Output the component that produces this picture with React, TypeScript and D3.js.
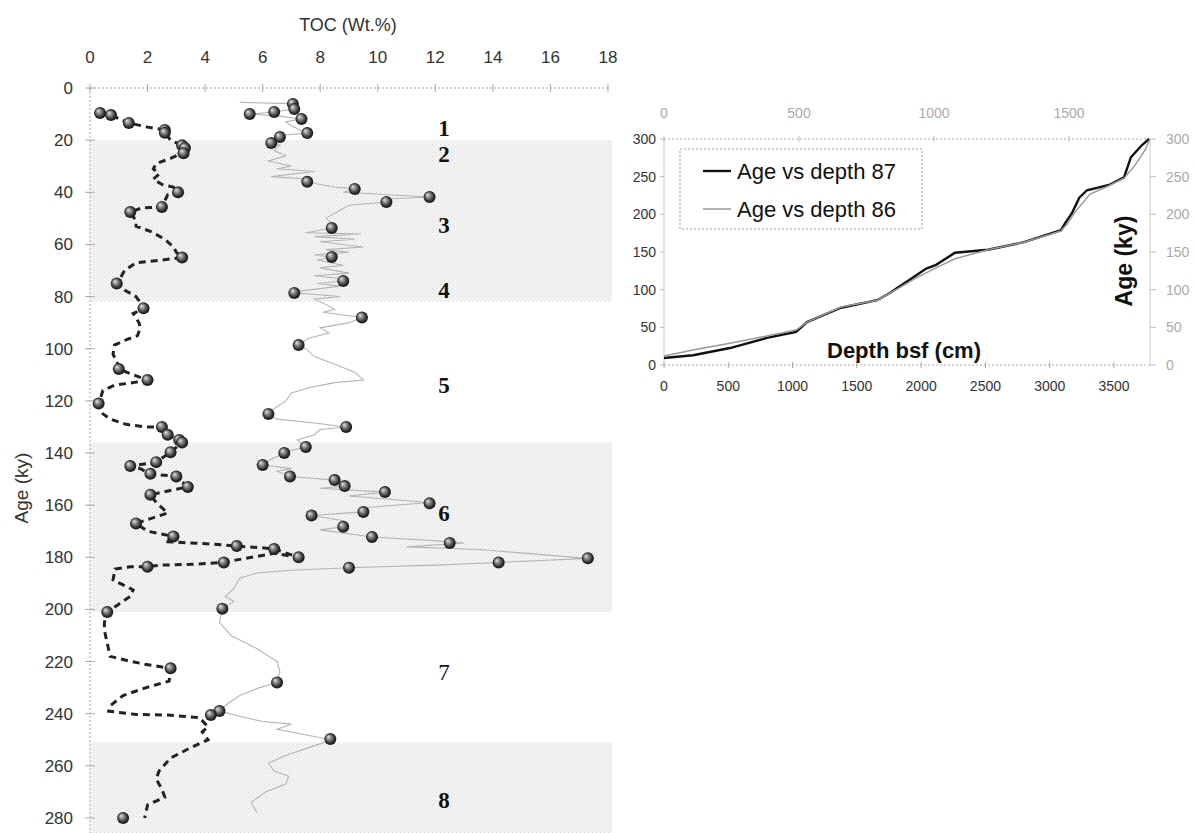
import React, { useEffect, useRef } from 'react';
import * as d3 from 'd3';

// ---- main panel: TOC (wt.%) against age (ky) ----
const tocTicks = [0, 2, 4, 6, 8, 10, 12, 14, 16, 18];
const ageTicks = [0, 20, 40, 60, 80, 100, 120, 140, 160, 180, 200, 220, 240, 260, 280];

// shaded intervals [top age, bottom age]
const bands = [[20, 82], [136, 201], [251, 295]];

// unit numbers [label, toc position, age]
const units = [
  ['1', 12.3, 15.5], ['2', 12.3, 25.5], ['3', 12.3, 52.5], ['4', 12.3, 77.5],
  ['5', 12.3, 114], ['6', 12.3, 163], ['7', 12.3, 224], ['8', 12.3, 273],
];

// dashed record [toc, age]
const dashedLine = [
  [0.35, 9.6], [0.73, 10.4], [1.35, 13.4], [2.0, 15], [2.6, 16.1], [2.6, 17.2], [2.8, 20], [3.2, 22],
  [3.3, 23], [3.2, 25], [2.8, 27], [2.3, 29], [2.2, 31], [2.4, 33], [2.2, 35], [2.5, 37], [2.9, 38],
  [3.1, 40], [2.7, 41], [2.5, 45.6], [1.8, 46], [1.4, 47.6], [1.6, 51], [1.6, 53], [2.1, 55], [2.6, 58],
  [2.9, 61], [3.0, 63], [3.2, 65], [2.5, 66], [1.6, 67], [1.2, 70], [0.95, 75], [1.2, 77.5], [1.6, 80],
  [1.9, 84.5], [1.5, 86.5], [1.7, 90], [1.75, 92], [1.65, 95], [1.25, 96.6], [0.85, 98.6], [0.8, 102],
  [0.95, 105.6], [1.0, 107.8], [1.5, 110], [2.0, 112], [1.5, 113], [0.85, 114], [0.45, 116], [0.3, 121],
  [0.45, 125], [0.7, 127], [1.25, 129], [1.9, 130], [2.5, 130], [2.7, 133], [3.1, 135], [3.2, 136],
  [2.8, 139.7], [2.3, 143.5], [1.4, 145], [1.75, 146], [2.1, 148], [3.0, 149], [3.4, 153], [2.1, 156],
  [2.3, 159], [2.7, 163], [1.6, 167], [2.0, 170], [2.9, 172], [2.6, 174], [3.5, 174.5], [4.3, 175],
  [5.1, 175.7], [5.9, 176.3], [6.4, 176.8], [7.25, 180], [6.4, 178.5], [5.1, 181], [4.65, 182],
  [3.5, 182.7], [2.5, 183], [2.0, 183.6], [1.4, 183.6], [0.87, 184.5], [0.8, 188.7], [1.15, 190.6],
  [1.5, 192.5], [1.4, 195], [1.0, 198], [0.6, 201], [0.5, 205], [0.5, 208], [0.6, 213], [0.7, 218],
  [1.25, 219.5], [1.9, 221], [2.8, 222.6], [2.75, 227.5], [1.95, 230], [1.15, 233], [0.7, 237],
  [0.65, 239], [1.6, 240.3], [2.7, 240.5], [3.8, 241.5], [4.1, 245], [3.9, 247], [4.1, 250], [3.5, 253],
  [2.8, 257], [2.4, 262], [2.3, 265], [2.5, 269], [2.6, 272], [2.0, 275], [1.9, 280],
];

const dashedMarkers = [
  [0.35, 9.6], [0.73, 10.4], [1.35, 13.4], [2.6, 16.1], [2.6, 17.2], [3.2, 22], [3.3, 23], [3.25, 25],
  [3.06, 40], [2.5, 45.6], [1.4, 47.6], [3.2, 65], [0.93, 75], [1.86, 84.5], [1.0, 107.8], [2.0, 112],
  [0.3, 121], [2.5, 130], [2.7, 133], [3.1, 135], [3.2, 136], [2.8, 139.7], [2.3, 143.5], [1.4, 145],
  [2.1, 148], [3.0, 149], [3.4, 153], [2.1, 156], [1.6, 167], [2.9, 172], [5.1, 175.7], [6.4, 176.8],
  [7.25, 180], [4.65, 182], [2.0, 183.6], [0.6, 201], [2.8, 222.6], [4.2, 240.5], [1.15, 280],
];

// thin grey record [toc, age]
const greyLine = [
  [5.2, 5.5], [7.0, 6.0], [7.1, 8.0], [6.4, 9.2], [5.6, 10], [6.6, 10.8], [7.3, 11.9], [6.8, 13],
  [7.0, 14.5], [7.5, 17.3], [6.8, 18], [6.6, 18.8], [6.3, 21.1], [6.6, 22], [6.4, 24], [6.8, 26],
  [6.2, 28], [7.0, 30], [6.5, 31], [7.8, 32], [6.3, 34], [7.6, 35], [7.55, 36], [8.0, 37], [8.5, 38],
  [9.2, 38.7], [8.8, 40], [11.8, 41.8], [10.5, 42.5], [10.3, 43.7], [9.0, 45], [8.5, 48], [8.2, 50],
  [8.4, 52], [8.4, 53.7], [7.5, 55.5], [9.4, 56], [7.8, 57], [9.2, 58], [8.0, 59], [9.5, 61], [8.2, 62],
  [9.0, 63], [7.8, 64], [8.4, 64.8], [7.9, 66], [8.8, 68], [8.0, 69], [9.0, 71], [7.8, 72], [8.6, 73],
  [8.8, 74], [7.9, 75], [8.7, 76], [7.2, 78], [7.1, 78.6], [8.7, 80], [7.8, 81], [8.2, 83], [8.5, 85],
  [8.1, 86], [9.45, 88], [9.0, 90], [8.0, 92], [8.3, 94], [7.6, 96], [7.25, 98.6], [7.5, 100],
  [7.8, 103], [8.5, 106], [9.2, 109], [9.5, 112], [8.5, 113], [7.6, 115], [7.0, 117], [6.8, 120],
  [6.4, 123], [6.2, 125], [6.5, 127], [7.8, 128.5], [8.9, 130], [8.0, 131], [7.8, 133], [7.2, 135],
  [7.5, 137.7], [7.0, 139], [6.75, 140], [6.2, 143], [6.0, 144.6], [7.0, 146], [6.5, 147], [6.95, 149],
  [8.5, 150.4], [8.85, 152.7], [8.0, 153.5], [10.25, 155], [9.0, 156.5], [11.8, 159], [9.5, 161],
  [9.5, 162.6], [7.7, 164], [8.8, 166], [8.8, 168.3], [8.0, 169.5], [9.8, 172.2], [12.5, 174],
  [13.0, 174.5], [11.0, 176], [13.5, 177], [17.3, 180.4], [14.2, 182], [12.0, 183], [9.0, 184],
  [7.0, 185], [5.8, 186], [5.2, 188], [5.0, 192], [4.7, 195], [5.0, 197], [4.6, 199.5], [4.5, 205],
  [4.9, 210], [5.8, 215], [6.5, 220], [6.6, 224], [6.5, 228], [5.9, 230], [5.2, 233], [4.8, 236],
  [4.5, 239], [5.2, 241], [6.0, 243], [7.0, 244], [6.5, 246], [8.4, 250], [7.6, 253], [6.8, 256],
  [6.2, 259], [6.4, 262], [6.9, 264], [6.8, 267], [6.1, 270], [5.6, 274], [5.8, 278],
];

const greyMarkers = [
  [7.05, 6.1], [7.1, 8.1], [6.4, 9.2], [5.55, 10], [7.35, 11.9], [7.55, 17.3], [6.6, 18.8], [6.3, 21.1],
  [7.55, 36], [9.2, 38.7], [11.8, 41.8], [10.3, 43.7], [8.4, 53.7], [8.4, 64.8], [8.8, 74], [7.1, 78.6],
  [9.45, 88], [7.25, 98.6], [6.2, 125], [8.9, 130], [7.5, 137.7], [6.75, 140], [6.0, 144.6], [6.95, 149],
  [8.5, 150.4], [8.85, 152.7], [10.25, 155], [11.8, 159.3], [9.5, 162.6], [7.7, 164], [8.8, 168.3],
  [9.8, 172.2], [12.5, 174.5], [17.3, 180.4], [14.2, 182], [9.0, 184], [4.6, 199.7], [6.5, 228],
  [4.5, 239], [8.35, 249.7],
];

// ---- inset: age model [depth cm, age ky] ----
const depthTicks87 = [0, 500, 1000, 1500, 2000, 2500, 3000, 3500];
const depthTicks86 = [0, 500, 1000, 1500];
const insetAgeTicks = [0, 50, 100, 150, 200, 250, 300];

const core87 = [
  [0, 9.3], [226, 13], [513, 22.5], [801, 36], [1027, 44], [1112, 57], [1377, 76], [1657, 86],
  [1760, 96], [1828, 104], [1890, 111], [1945, 117], [2040, 128], [2116, 133], [2263, 149], [2520, 153],
  [2800, 163], [3088, 179], [3119, 188], [3174, 202], [3230, 222], [3290, 232], [3461, 239], [3578, 249],
  [3632, 276], [3718, 292], [3773, 300],
];
const core86 = [
  [0, 12], [107, 20], [244, 29], [381, 38.5], [489, 46.4], [530, 57], [656, 77], [789, 86], [870, 102],
  [926, 114], [1007, 129], [1078, 141], [1200, 153], [1333, 163], [1470, 178], [1493, 187], [1522, 203],
  [1578, 227], [1648, 238], [1704, 248], [1744, 265], [1781, 285], [1800, 300],
];

const SANS = 'Liberation Sans, Arial, sans-serif';

const App = () => {
  const ref = useRef<SVGSVGElement>(null);

  useEffect(() => {
    const svg = d3.select(ref.current);
    svg.selectAll('*').remove();

    const defs = svg.append('defs');
    const grad = defs.append('radialGradient').attr('id', 'ball')
      .attr('cx', '50%').attr('cy', '50%').attr('r', '55%').attr('fx', '32%').attr('fy', '30%');
    grad.append('stop').attr('offset', '0%').attr('stop-color', '#e6e6e6');
    grad.append('stop').attr('offset', '35%').attr('stop-color', '#8c8c8c');
    grad.append('stop').attr('offset', '75%').attr('stop-color', '#2a2a2a');
    grad.append('stop').attr('offset', '100%').attr('stop-color', '#111');

    const pat = defs.append('pattern').attr('id', 'stipple')
      .attr('width', 4).attr('height', 4).attr('patternUnits', 'userSpaceOnUse');
    pat.append('rect').attr('width', 4).attr('height', 4).attr('fill', '#f3f3f3');
    pat.append('rect').attr('x', 0).attr('y', 0).attr('width', 1).attr('height', 1).attr('fill', '#d9d9d9');
    pat.append('rect').attr('x', 2).attr('y', 2).attr('width', 1).attr('height', 1).attr('fill', '#d9d9d9');

    // main panel
    const x = d3.scaleLinear().domain([0, 18]).range([90, 608]);
    const y = d3.scaleLinear().domain([0, 280]).range([88, 818]);

    svg.append('g').selectAll('rect').data(bands).enter().append('rect')
      .attr('x', x(0)).attr('y', (b) => y(b[0]))
      .attr('width', x(18) + 4 - x(0)).attr('height', (b) => y(b[1]) - y(b[0]))
      .attr('fill', 'url(#stipple)');

    // top axis
    svg.append('line').attr('x1', x(0)).attr('x2', x(18)).attr('y1', y(0)).attr('y2', y(0))
      .attr('stroke', '#aaa').attr('stroke-dasharray', '2 2');
    svg.append('g').selectAll('line').data(tocTicks).enter().append('line')
      .attr('x1', (d) => x(d)).attr('x2', (d) => x(d)).attr('y1', y(0) - 4).attr('y2', y(0) + 4)
      .attr('stroke', '#aaa');
    svg.append('g').selectAll('text').data(tocTicks).enter().append('text')
      .attr('x', (d) => x(d)).attr('y', 63).attr('text-anchor', 'middle')
      .attr('font-family', SANS).attr('font-size', 17).attr('fill', '#333')
      .text((d) => d);
    svg.append('text').attr('x', 348).attr('y', 31).attr('text-anchor', 'middle')
      .attr('font-family', SANS).attr('font-size', 18).attr('fill', '#333').text('TOC (Wt.%)');

    // left axis
    svg.append('line').attr('x1', x(0)).attr('x2', x(0)).attr('y1', y(0)).attr('y2', 833)
      .attr('stroke', '#aaa').attr('stroke-dasharray', '2 2');
    svg.append('g').selectAll('line').data(ageTicks).enter().append('line')
      .attr('x1', x(0) - 5).attr('x2', x(0) + 5).attr('y1', (d) => y(d)).attr('y2', (d) => y(d))
      .attr('stroke', '#aaa');
    svg.append('g').selectAll('text').data(ageTicks).enter().append('text')
      .attr('x', 73).attr('y', (d) => y(d) + 6).attr('text-anchor', 'end')
      .attr('font-family', SANS).attr('font-size', 17).attr('fill', '#333')
      .text((d) => d);
    svg.append('text').attr('transform', 'translate(28,488) rotate(-90)').attr('text-anchor', 'middle')
      .attr('font-family', SANS).attr('font-size', 19).attr('fill', '#333').text('Age (ky)');

    // grey record
    const line = d3.line<number[]>().x((d) => x(d[0])).y((d) => y(d[1]));
    svg.append('path').datum(greyLine).attr('d', line)
      .attr('fill', 'none').attr('stroke', '#b4b4b4').attr('stroke-width', 1.1);

    // dashed record
    svg.append('path').datum(dashedLine).attr('d', line)
      .attr('fill', 'none').attr('stroke', '#222').attr('stroke-width', 3)
      .attr('stroke-dasharray', '7 5');

    // sample markers
    svg.append('g').selectAll('circle').data(greyMarkers.concat(dashedMarkers)).enter().append('circle')
      .attr('cx', (d) => x(d[0])).attr('cy', (d) => y(d[1])).attr('r', 6)
      .attr('fill', 'url(#ball)');

    // unit numbers
    svg.append('g').selectAll('text').data(units).enter().append('text')
      .attr('x', (d) => x(d[1] as number)).attr('y', (d) => y(d[2] as number) + 8)
      .attr('text-anchor', 'middle')
      .attr('font-family', 'Liberation Serif, Times New Roman, serif')
      .attr('font-weight', (d) => (d[0] === '7' ? 'normal' : 'bold'))
      .attr('font-size', 23).attr('fill', '#111')
      .text((d) => d[0]);

    // inset: age vs depth
    const ix = d3.scaleLinear().domain([0, 3780]).range([664, 1150]);
    const ixTop = d3.scaleLinear().domain([0, 1800]).range([664, 1150]);
    const iy = d3.scaleLinear().domain([0, 300]).range([365, 139]);

    svg.append('line').attr('x1', ix(0)).attr('x2', ix(3780)).attr('y1', iy(300)).attr('y2', iy(300))
      .attr('stroke', '#aaa').attr('stroke-dasharray', '2 2');
    svg.append('line').attr('x1', ix(0)).attr('x2', ix(3780)).attr('y1', iy(0)).attr('y2', iy(0))
      .attr('stroke', '#aaa').attr('stroke-dasharray', '2 2');
    svg.append('line').attr('x1', ix(0)).attr('x2', ix(0)).attr('y1', iy(0)).attr('y2', iy(300))
      .attr('stroke', '#ccc');
    svg.append('line').attr('x1', ix(3780)).attr('x2', ix(3780)).attr('y1', iy(0)).attr('y2', iy(300))
      .attr('stroke', '#ccc');

    svg.append('g').selectAll('line').data(depthTicks87).enter().append('line')
      .attr('x1', (d) => ix(d)).attr('x2', (d) => ix(d)).attr('y1', iy(0) - 3).attr('y2', iy(0) + 3)
      .attr('stroke', '#aaa');
    svg.append('g').selectAll('text').data(depthTicks87).enter().append('text')
      .attr('x', (d) => ix(d)).attr('y', 391).attr('text-anchor', 'middle')
      .attr('font-family', SANS).attr('font-size', 14).attr('fill', '#333').text((d) => d);

    svg.append('g').selectAll('line').data(depthTicks86).enter().append('line')
      .attr('x1', (d) => ixTop(d)).attr('x2', (d) => ixTop(d)).attr('y1', iy(300) - 3).attr('y2', iy(300) + 3)
      .attr('stroke', '#bbb');
    svg.append('g').selectAll('text').data(depthTicks86).enter().append('text')
      .attr('x', (d) => ixTop(d)).attr('y', 118).attr('text-anchor', 'middle')
      .attr('font-family', SANS).attr('font-size', 14).attr('fill', '#aaa').text((d) => d);

    svg.append('g').selectAll('line').data(insetAgeTicks).enter().append('line')
      .attr('x1', ix(0) - 4).attr('x2', ix(0)).attr('y1', (d) => iy(d)).attr('y2', (d) => iy(d))
      .attr('stroke', '#bbb');
    svg.append('g').selectAll('text').data(insetAgeTicks).enter().append('text')
      .attr('x', 656).attr('y', (d) => iy(d) + 5).attr('text-anchor', 'end')
      .attr('font-family', SANS).attr('font-size', 14).attr('fill', '#333').text((d) => d);
    svg.append('g').selectAll('line').data(insetAgeTicks).enter().append('line')
      .attr('x1', ix(3780)).attr('x2', ix(3780) + 6).attr('y1', (d) => iy(d)).attr('y2', (d) => iy(d))
      .attr('stroke', '#bbb');
    svg.append('g').selectAll('text').data(insetAgeTicks).enter().append('text')
      .attr('x', 1166).attr('y', (d) => iy(d) + 5).attr('text-anchor', 'start')
      .attr('font-family', SANS).attr('font-size', 14).attr('fill', '#aaa').text((d) => d);

    const line87 = d3.line<number[]>().x((d) => ix(d[0])).y((d) => iy(d[1]));
    const line86 = d3.line<number[]>().x((d) => ixTop(d[0])).y((d) => iy(d[1]));
    svg.append('path').datum(core87).attr('d', line87)
      .attr('fill', 'none').attr('stroke', '#111').attr('stroke-width', 2.4);
    svg.append('path').datum(core86).attr('d', line86)
      .attr('fill', 'none').attr('stroke', '#999').attr('stroke-width', 1.5);

    // legend
    svg.append('rect').attr('x', 680).attr('y', 149).attr('width', 242).attr('height', 80)
      .attr('fill', '#fff').attr('stroke', '#999').attr('stroke-dasharray', '2 2');
    const legend = [['Age vs depth 87', '#111', 2.4], ['Age vs depth 86', '#999', 1.5]];
    legend.forEach((l, i) => {
      const ly = 171 + i * 38;
      svg.append('line').attr('x1', 703).attr('x2', 731).attr('y1', ly).attr('y2', ly)
        .attr('stroke', l[1] as string).attr('stroke-width', l[2] as number);
      svg.append('text').attr('x', 737).attr('y', ly + 8)
        .attr('font-family', SANS).attr('font-size', 22).attr('fill', '#111').text(l[0] as string);
    });

    svg.append('text').attr('x', 904).attr('y', 358).attr('text-anchor', 'middle')
      .attr('font-family', SANS).attr('font-size', 22).attr('font-weight', 'bold').attr('fill', '#111')
      .text('Depth bsf (cm)');
    svg.append('text').attr('transform', 'translate(1132,261) rotate(-90)').attr('text-anchor', 'middle')
      .attr('font-family', SANS).attr('font-size', 23).attr('font-weight', 'bold').attr('fill', '#111')
      .text('Age (ky)');
  }, []);

  return (
    <svg ref={ref} width={1196} height={833}
      style={{ position: 'absolute', left: 0, top: 0, display: 'block', background: '#fff' }} />
  );
};

export default App;
